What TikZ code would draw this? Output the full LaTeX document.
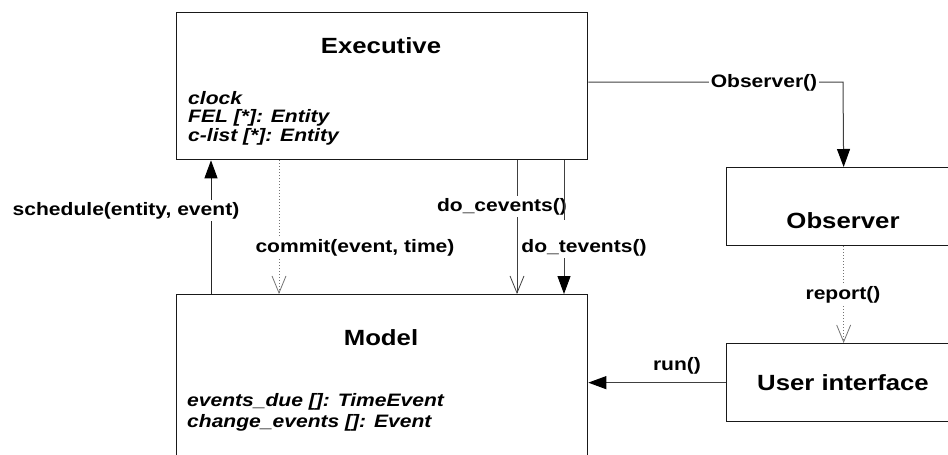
\documentclass[tikz,border=0pt]{standalone}
\usepackage{fontspec}
\setmainfont{Liberation Sans}[FakeStretch=1.17]
\usetikzlibrary{arrows.meta}
\begin{document}
\begin{tikzpicture}[x=1pt,y=-1pt,
  box/.style={draw=black!90,line width=1.3pt,rectangle,anchor=north west,inner sep=0pt},
  title/.style={font=\fontsize{22}{26}\selectfont\bfseries,anchor=base,inner sep=0pt},
  attr/.style={font=\fontsize{18}{21}\selectfont\bfseries\itshape,anchor=base west,inner sep=0pt},
  lbl/.style={font=\fontsize{18}{21}\selectfont\bfseries,anchor=base,fill=white,inner xsep=1pt,inner ysep=2pt},
  conn/.style={draw=black!75,line width=1pt},
  dotconn/.style={draw=black!55,line width=1pt,dotted},
  filltip/.style={-{Triangle[length=18pt,width=13pt,color=black,fill=black]}},
  opentip/.style={-{Straight Barb[length=17pt,width=14pt,line width=0.8pt]}},
]
\useasboundingbox (0,0) rectangle (948,455);
\clip (0,0) rectangle (948,455);

% boxes
\node[box,minimum width=411pt,minimum height=147pt] (exec) at (176,12) {};
\node[box,minimum width=411pt,minimum height=190pt] (model) at (176,294) {};
\node[box,minimum width=234pt,minimum height=78pt] (obs) at (726,167) {};
\node[box,minimum width=234pt,minimum height=78pt] (ui) at (726,343) {};

% titles and attributes
\node[title] (exect) at (381,53) {Executive};
\node[attr] (ea1) at (188,104) {clock};
\node[attr] (ea2) at (188,122.5) {FEL [*]: Entity};
\node[attr] (ea3) at (188,141) {c-list [*]: Entity};
\node[title] (modelt) at (381,345) {Model};
\node[attr] (ma1) at (187,406) {events\_due []: TimeEvent};
\node[attr] (ma2) at (187,427) {change\_events []: Event};
\node[title] (obst) at (843,228) {Observer};
\node[title] (uit) at (843,390) {User interface};

% helper x positions
\coordinate (xs) at (211,0);
\coordinate (xc) at (279,0);
\coordinate (xd) at (517,0);
\coordinate (xt) at (564,0);
\coordinate (oc) at (843,82);

% schedule
\draw[conn,draw=black!85,filltip] (xs |- model.north) -- (xs |- exec.south);
\node[lbl] (schedl) at (126,215) {schedule(entity, event)};
% commit
\draw[dotconn,opentip] (xc |- exec.south) -- (xc |- model.north);
\node[lbl] (commitl) at (355,252.5) {commit(event, time)};
% do_cevents
\draw[conn,opentip] (xd |- exec.south) -- (xd |- model.north);
\node[lbl] (docl) at (502,211.5) {do\_cevents()};
% do_tevents
\draw[conn,filltip] (xt |- exec.south) -- (xt |- model.north);
\node[lbl,text height=30pt] (dotl) at (584,252) {do\_tevents()};

% Observer()
\draw[conn,filltip] (exec.east |- oc) -- (oc) -- (obs.north);
\node[lbl,inner xsep=2pt] (obsl) at (764,87.5) {Observer()};

% report()
\draw[dotconn,opentip] (obs.south) -- (ui.north);
\node[lbl] (repl) at (843,299) {report()};

% run()
\draw[conn,filltip] (ui.west) -- (ui.west -| model.east);
\node[lbl,fill=none] (runl) at (677,370) {run()};
\end{tikzpicture}
\end{document}
